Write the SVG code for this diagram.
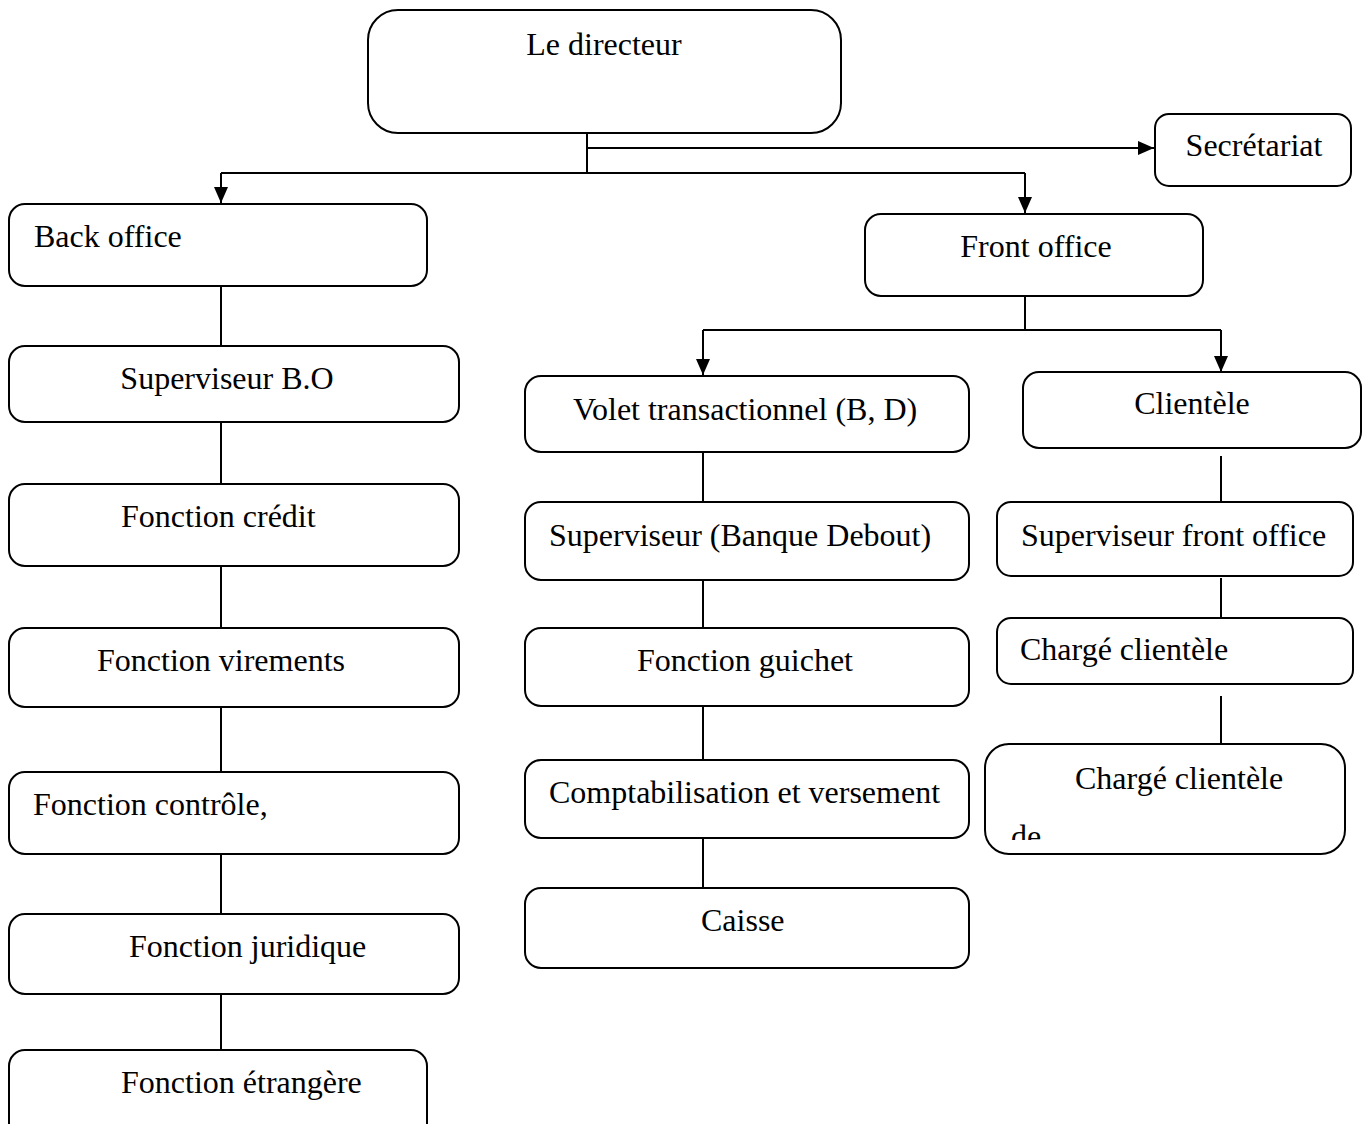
<svg xmlns="http://www.w3.org/2000/svg" width="1370" height="1124" viewBox="0 0 1370 1124">
<style>
.box{fill:#fff;stroke:#000;stroke-width:2}
.t{font-family:"Liberation Serif","Times New Roman",serif;font-size:32px;fill:#000}
.c{text-anchor:middle}
.ln{stroke:#000;stroke-width:2;fill:none}
</style>
<defs>
<marker id="ah" viewBox="0 0 16 14" refX="16" refY="7" markerWidth="16" markerHeight="14" markerUnits="userSpaceOnUse" orient="auto">
<path d="M0,0 L16,7 L0,14 Z" fill="#000"/>
</marker>
<clipPath id="clipde"><rect x="985" y="744" width="360" height="96"/></clipPath>
</defs>
<rect width="1370" height="1124" fill="#fff"/>
<g id="connectors">
<path class="ln" d="M587,126 V173"/>
<path class="ln" d="M587,148 H1154" marker-end="url(#ah)" stroke-width="3"/>
<path class="ln" d="M221,173 H1025"/>
<path class="ln" d="M221,173 V203" marker-end="url(#ah)"/>
<path class="ln" d="M1025,173 V213" marker-end="url(#ah)"/>
<path class="ln" d="M221,286 V346 M221,422 V484 M221,566 V628 M221,707 V772 M221,854 V914 M221,994 V1050"/>
<path class="ln" d="M1025,296 V330 M703,330 H1221"/>
<path class="ln" d="M703,330 V375" marker-end="url(#ah)"/>
<path class="ln" d="M1221,330 V372" marker-end="url(#ah)"/>
<path class="ln" d="M703,452 V502 M703,580 V628 M703,706 V760 M703,838 V888"/>
<path class="ln" d="M1221,456 V502 M1221,578 V618 M1221,696 V744"/>
</g>
<g id="directeur"><rect class="box" x="368" y="10" width="473" height="123" rx="30"/><text class="t c" x="604" y="55">Le directeur</text></g>
<g id="secretariat"><rect class="box" x="1155" y="114" width="196" height="72" rx="14"/><text class="t c" x="1254" y="156">Secrétariat</text></g>
<g id="backoffice"><rect class="box" x="9" y="204" width="418" height="82" rx="16"/><text class="t" x="34" y="247">Back office</text></g>
<g id="frontoffice"><rect class="box" x="865" y="214" width="338" height="82" rx="16"/><text class="t c" x="1036" y="257">Front office</text></g>
<g id="supBO"><rect class="box" x="9" y="346" width="450" height="76" rx="16"/><text class="t c" x="227" y="389">Superviseur B.O</text></g>
<g id="credit"><rect class="box" x="9" y="484" width="450" height="82" rx="16"/><text class="t" x="121" y="527">Fonction crédit</text></g>
<g id="virements"><rect class="box" x="9" y="628" width="450" height="79" rx="16"/><text class="t" x="97" y="671">Fonction virements</text></g>
<g id="controle"><rect class="box" x="9" y="772" width="450" height="82" rx="16"/><text class="t" x="33" y="815">Fonction contrôle,</text></g>
<g id="juridique"><rect class="box" x="9" y="914" width="450" height="80" rx="16"/><text class="t" x="129" y="957">Fonction juridique</text></g>
<g id="etrangere"><rect class="box" x="9" y="1050" width="418" height="90" rx="16"/><text class="t" x="121" y="1093">Fonction étrangère</text></g>
<g id="volet"><rect class="box" x="525" y="376" width="444" height="76" rx="16"/><text class="t" x="573" y="420">Volet transactionnel (B, D)</text></g>
<g id="supBD"><rect class="box" x="525" y="502" width="444" height="78" rx="16"/><text class="t" x="549" y="546">Superviseur (Banque Debout)</text></g>
<g id="guichet"><rect class="box" x="525" y="628" width="444" height="78" rx="16"/><text class="t" x="637" y="671">Fonction guichet</text></g>
<g id="compta"><rect class="box" x="525" y="760" width="444" height="78" rx="16"/><text class="t" x="549" y="803">Comptabilisation et versement</text></g>
<g id="caisse"><rect class="box" x="525" y="888" width="444" height="80" rx="16"/><text class="t" x="701" y="931">Caisse</text></g>
<g id="clientele"><rect class="box" x="1023" y="372" width="338" height="76" rx="16"/><text class="t c" x="1192" y="414">Clientèle</text></g>
<g id="supFO"><rect class="box" x="997" y="502" width="356" height="74" rx="14"/><text class="t" x="1021" y="546">Superviseur front office</text></g>
<g id="charge1"><rect class="box" x="997" y="618" width="356" height="66" rx="14"/><text class="t" x="1020" y="660">Chargé clientèle</text></g>
<g id="charge2"><rect class="box" x="985" y="744" width="360" height="110" rx="24"/><text class="t" x="1075" y="789">Chargé clientèle</text><text class="t" x="1011" y="847" clip-path="url(#clipde)">de</text></g>
</svg>
